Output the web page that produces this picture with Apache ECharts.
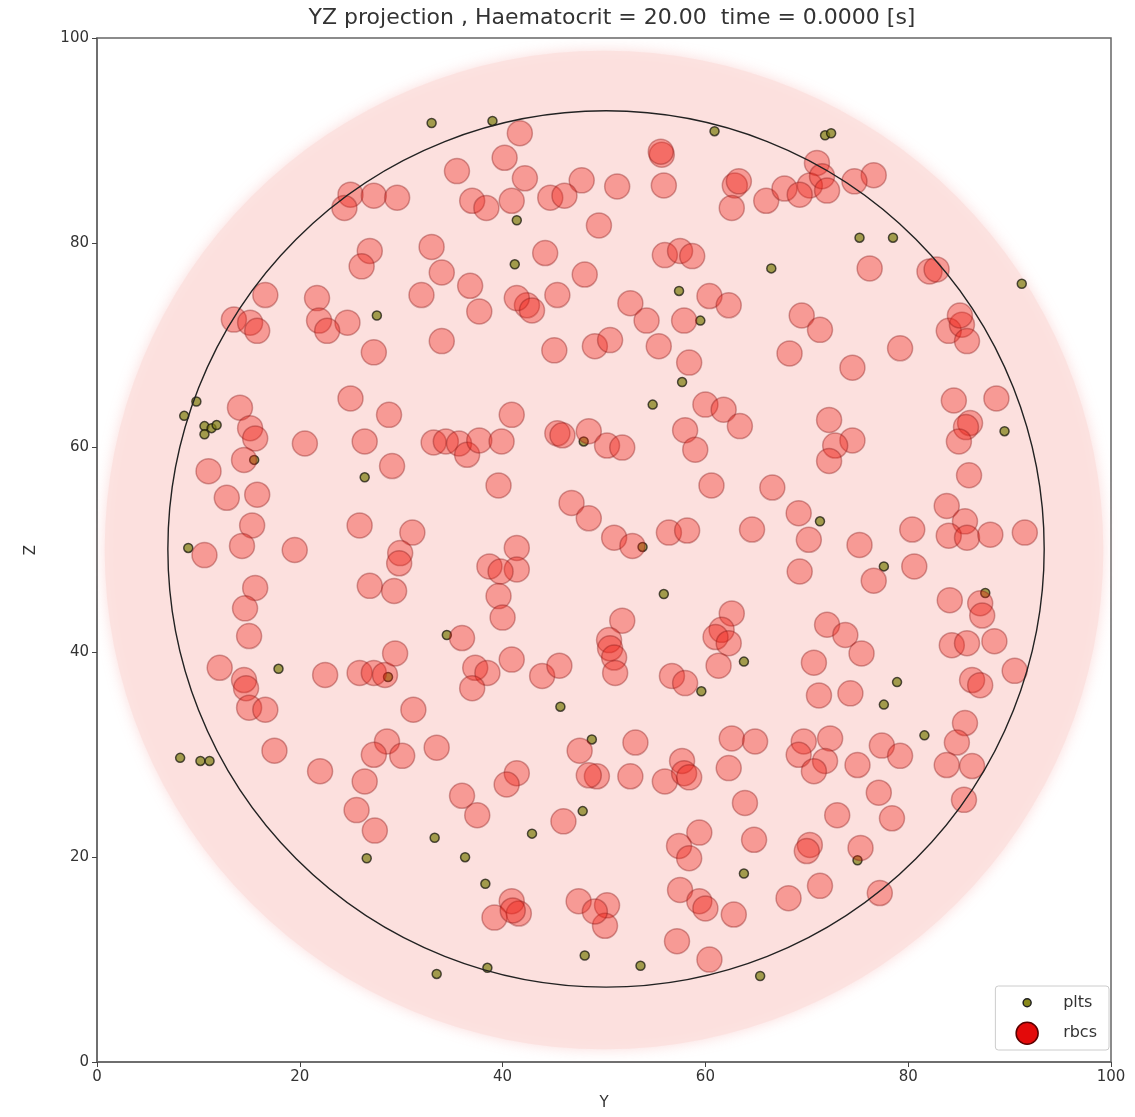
<!DOCTYPE html>
<html>
<head>
<meta charset="utf-8">
<title>YZ projection</title>
<script src="https://cdn.jsdelivr.net/npm/echarts@6/dist/echarts.min.js"></script>
<style>
  html, body { margin: 0; padding: 0; background: #ffffff; }
  #chart { width: 1135px; height: 1117px; }
</style>
</head>
<body>
<div id="chart"></div>
<script>
// Cross-section of the vessel in the Y-Z plane: cell centres [Y, Z]
const titleText = 'YZ projection , Haematocrit = 20.00  time = 0.0000 [s]';
const axisTicks = [0, 20, 40, 60, 80, 100];

// outer domain disc and vessel wall: [centreY, centreZ, radius]
const domainDisc = [[50, 50, 49]];
const vesselWall = [[50.2, 50.1, 43]];

// platelets
const plts = [
  [33.0,91.7],[39.0,91.9],[60.9,90.9],[71.8,90.5],[72.4,90.7],[41.4,82.2],[41.2,77.9],
  [75.2,80.5],[78.5,80.5],[66.5,77.5],[91.2,76.0],[27.6,72.9],[57.4,75.3],[59.5,72.4],
  [57.7,66.4],[54.8,64.2],[9.8,64.5],[8.6,63.1],[10.6,62.1],[11.3,61.9],[11.8,62.2],
  [10.6,61.3],[15.5,58.8],[26.4,57.1],[48.0,60.6],[89.5,61.6],[53.8,50.3],[71.3,52.8],
  [77.6,48.4],[9.0,50.2],[55.9,45.7],[87.6,45.8],[34.5,41.7],[63.8,39.1],[17.9,38.4],
  [28.7,37.6],[45.7,34.7],[59.6,36.2],[78.9,37.1],[77.6,34.9],[81.6,31.9],[8.2,29.7],
  [10.2,29.4],[11.1,29.4],[48.8,31.5],[47.9,24.5],[42.9,22.3],[26.6,19.9],[33.3,21.9],
  [36.3,20.0],[38.3,17.4],[48.1,10.4],[53.6,9.4],[63.8,18.4],[65.4,8.4],[33.5,8.6],
  [38.5,9.2],[75.0,19.7]
];

// red blood cells
const rbcs = [
  // upper left
  [25.0,84.7],[24.4,83.4],[27.3,84.6],[29.6,84.4],[26.9,79.2],[26.1,77.7],[33.0,79.6],
  [32.0,74.9],[21.7,74.6],[21.9,72.4],[24.7,72.2],[22.7,71.4],[27.3,69.3],[13.5,72.5],
  [15.1,72.2],[16.6,74.9],[15.8,71.4],[34.0,70.4],
  // upper centre
  [41.7,90.7],[40.2,88.3],[35.5,87.0],[42.2,86.3],[47.8,86.1],[51.3,85.5],[55.7,88.6],
  [55.6,88.9],[55.9,85.6],[62.9,85.6],[63.3,86.0],[62.6,83.4],[66.0,84.1],[37.0,84.1],
  [38.4,83.4],[40.9,84.1],[44.7,84.4],[46.1,84.6],[49.5,81.7],[44.2,79.0],[34.0,77.1],
  [36.8,75.8],[37.7,73.3],[42.4,73.9],[41.4,74.6],[42.9,73.4],[45.4,74.9],[48.1,76.9],
  [56.0,78.8],[57.5,79.2],[58.7,78.7],[52.6,74.1],[54.2,72.4],[55.4,69.9],[60.4,74.8],
  [62.3,73.9],[57.9,72.4],[58.4,68.3],[45.1,69.5],[49.1,69.9],[50.6,70.5],
  // upper right
  [71.0,87.8],[70.3,85.6],[71.5,86.5],[67.8,85.3],[72.0,85.1],[69.3,84.7],[76.6,86.6],
  [74.7,86.0],[76.2,77.5],[82.1,77.2],[82.8,77.4],[69.5,72.9],[71.3,71.5],[68.3,69.2],
  [74.5,67.8],[79.2,69.7],[84.0,71.4],[85.3,72.0],[85.8,70.4],[85.1,72.9],
  // middle left
  [14.1,63.9],[15.1,61.9],[15.6,60.9],[14.5,58.8],[11.0,57.7],[12.8,55.1],[15.8,55.4],
  [15.3,52.4],[14.3,50.4],[10.6,49.5],[20.5,60.4],[25.0,64.8],[28.8,63.2],[26.4,60.6],
  [29.1,58.2],[25.9,52.4],[19.5,50.0],[31.1,51.7],[29.9,49.7],[29.8,48.7],[26.9,46.5],
  [29.3,46.0],[15.6,46.3],[14.6,44.3],[15.0,41.6],[12.1,38.5],[14.5,37.3],[14.7,36.5],
  [22.5,37.8],[25.9,38.0],[27.3,38.0],[28.4,37.8],[29.4,39.9],[31.2,34.4],[15.0,34.6],
  [16.6,34.4],
  // centre
  [40.9,63.2],[33.2,60.5],[34.4,60.6],[35.7,60.4],[36.5,59.3],[37.7,60.7],[39.9,60.6],
  [45.4,61.4],[45.9,61.2],[48.5,61.6],[50.3,60.2],[51.8,60.0],[39.6,56.3],[46.8,54.6],
  [48.5,53.1],[51.0,51.2],[52.8,50.4],[56.4,51.7],[58.2,51.9],[60.0,64.2],[61.8,63.7],
  [63.4,62.1],[58.0,61.7],[59.0,59.8],[60.6,56.3],[66.6,56.1],[64.6,52.0],[41.4,50.2],
  [38.7,48.4],[41.4,48.1],[39.8,47.9],[39.6,45.5],[40.0,43.4],[36.0,41.4],[37.3,38.5],
  [38.5,38.0],[37.0,36.5],[40.9,39.3],[43.9,37.7],[45.6,38.7],[51.8,43.1],[50.5,41.2],
  [50.6,40.4],[51.0,39.5],[51.1,38.0],[62.6,43.8],[61.6,42.2],[61.0,41.5],[62.3,40.9],
  [61.3,38.7],[56.7,37.7],[58.0,37.0],
  // middle right
  [84.5,64.6],[88.7,64.8],[86.1,62.4],[85.7,62.0],[85.0,60.6],[86.0,57.3],[72.2,62.7],
  [74.5,60.7],[72.8,60.2],[72.2,58.7],[69.2,53.6],[70.2,51.0],[75.2,50.5],[80.4,52.0],
  [80.6,48.4],[76.6,47.0],[69.3,47.9],[83.8,54.3],[85.6,52.8],[84.0,51.4],[85.8,51.2],
  [88.1,51.5],[91.5,51.7],[84.1,45.1],[87.1,44.8],[87.3,43.6],[84.3,40.7],[85.8,40.9],
  [88.5,41.1],[86.3,37.3],[87.1,36.8],[90.5,38.2],[72.0,42.7],[73.8,41.7],[75.4,39.9],
  [70.7,39.0],[71.2,35.8],[74.3,36.0],
  // lower left
  [17.5,30.4],[22.0,28.4],[28.6,31.3],[27.3,30.0],[30.1,29.9],[26.4,27.4],[25.6,24.6],
  [27.4,22.6],[33.5,30.7],
  // lower centre
  [41.4,28.2],[40.4,27.1],[36.0,26.0],[37.5,24.1],[46.0,23.5],[47.6,30.4],[49.3,27.9],
  [48.5,28.0],[53.1,31.2],[52.6,27.9],[56.0,27.4],[57.7,29.4],[57.9,28.2],[58.4,27.8],
  [62.6,31.6],[64.9,31.3],[62.3,28.7],[63.9,25.3],[64.8,21.7],[59.4,22.4],[57.4,21.1],
  [58.4,19.9],[57.5,16.8],[59.4,15.7],[60.0,15.0],[62.8,14.4],[57.2,11.8],[60.4,10.0],
  [47.5,15.7],[50.3,15.3],[50.1,13.3],[49.1,14.7],[40.9,15.7],[41.6,14.5],[39.2,14.1],
  [41.0,14.8],
  // lower right
  [69.7,31.3],[72.3,31.6],[69.2,30.0],[71.8,29.4],[70.7,28.4],[75.0,29.0],[77.4,30.9],
  [79.2,29.9],[85.6,33.1],[84.8,31.2],[83.8,29.0],[86.3,28.9],[85.5,25.6],[77.1,26.3],
  [78.4,23.8],[73.0,24.1],[70.3,21.2],[70.0,20.6],[75.3,20.9],[71.3,17.2],[68.2,16.0],
  [77.2,16.5]
];

const FONT = '"DejaVu Sans", "Liberation Sans", sans-serif';

// circle drawn in data units through the axes' own scales
function circleItem(fill, stroke, lineWidth, blur) {
  return function (params, api) {
    const c = api.coord([api.value(0), api.value(1)]);
    const s = api.size([api.value(2), api.value(2)]);
    const r = (s[0] + s[1]) / 2;
    return {
      type: 'circle',
      shape: { cx: c[0], cy: c[1], r: r },
      style: {
        fill: fill,
        stroke: stroke,
        lineWidth: lineWidth,
        shadowBlur: blur || 0,
        shadowColor: blur ? 'rgba(250,210,208,0.9)' : 'transparent'
      },
      silent: true
    };
  };
}

// legend icons: wide transparent box so the text sits to the right
const pltsIcon = 'path://M0,0M52,24M17,12a4,4 0 1,0 8,0a4,4 0 1,0 -8,0Z';
const rbcsIcon = 'path://M0,0M52,24M10,12a11,11 0 1,0 22,0a11,11 0 1,0 -22,0Z';

const axisCommon = {
  type: 'value',
  min: 0,
  max: 100,
  interval: 20,
  splitLine: { show: false },
  axisLine: { show: true, onZero: false, lineStyle: { color: '#666', width: 1.5 } },
  axisTick: { show: true, inside: false, length: 5, lineStyle: { color: '#444' } },
  axisLabel: {
    color: '#333', fontSize: 15, fontFamily: FONT,
    formatter: function (v) { return axisTicks.indexOf(v) >= 0 ? String(v) : ''; }
  },
  nameTextStyle: { color: '#333', fontSize: 15, fontFamily: FONT }
};

const chart = echarts.init(document.getElementById('chart'), null, { renderer: 'canvas' });
chart.setOption({
  backgroundColor: '#ffffff',
  animation: false,
  title: {
    text: titleText,
    left: 607,
    textAlign: 'center',
    top: 2,
    padding: [5, 5],
    textStyle: { color: '#333', fontSize: 22, fontWeight: 'normal', fontFamily: FONT }
  },
  grid: {
    left: 97, right: 24, top: 38, bottom: 55,
    show: true, borderColor: '#666', borderWidth: 1.5, backgroundColor: 'transparent'
  },
  legend: {
    data: [
      { name: 'plts', icon: pltsIcon, itemStyle: { color: '#8a8a1c', borderColor: '#222', borderWidth: 1.5, opacity: 1 } },
      { name: 'rbcs', icon: rbcsIcon, itemStyle: { color: '#e30a0a', borderColor: '#5a0000', borderWidth: 1.5, opacity: 1 } }
    ],
    orient: 'vertical',
    right: 26,
    top: 986,
    itemWidth: 52,
    itemHeight: 24,
    itemGap: 5,
    padding: [4, 12, 4, 10],
    borderColor: '#cccccc',
    borderWidth: 1,
    borderRadius: 3,
    backgroundColor: 'rgba(255,255,255,0.9)',
    textStyle: { color: '#333', fontSize: 16, fontFamily: FONT },
    selectedMode: false
  },
  xAxis: Object.assign({}, axisCommon, {
    name: 'Y', nameLocation: 'middle', nameGap: 34
  }),
  yAxis: Object.assign({}, axisCommon, {
    name: 'Z', nameLocation: 'middle', nameGap: 58, nameRotate: 90
  }),
  series: [
    {
      name: 'domain',
      type: 'custom',
      data: domainDisc,
      renderItem: circleItem('rgba(251,224,222,0.85)', null, 0, 14),
      z: 1
    },
    {
      name: 'plts',
      type: 'scatter',
      data: plts,
      symbol: 'circle',
      symbolSize: 9,
      itemStyle: { color: 'rgba(128,128,20,0.9)', borderColor: 'rgba(20,20,10,0.9)', borderWidth: 1.5 },
      silent: true,
      z: 2
    },
    {
      name: 'rbcs',
      type: 'scatter',
      data: rbcs,
      symbol: 'circle',
      symbolSize: 25,
      itemStyle: { color: 'rgba(238,30,20,0.45)', borderColor: 'rgba(130,20,20,0.45)', borderWidth: 1.5 },
      silent: true,
      z: 3
    },
    {
      name: 'wall',
      type: 'custom',
      data: vesselWall,
      renderItem: circleItem('none', '#222', 1.4, 0),
      z: 4
    }
  ]
});
</script>
</body>
</html>
